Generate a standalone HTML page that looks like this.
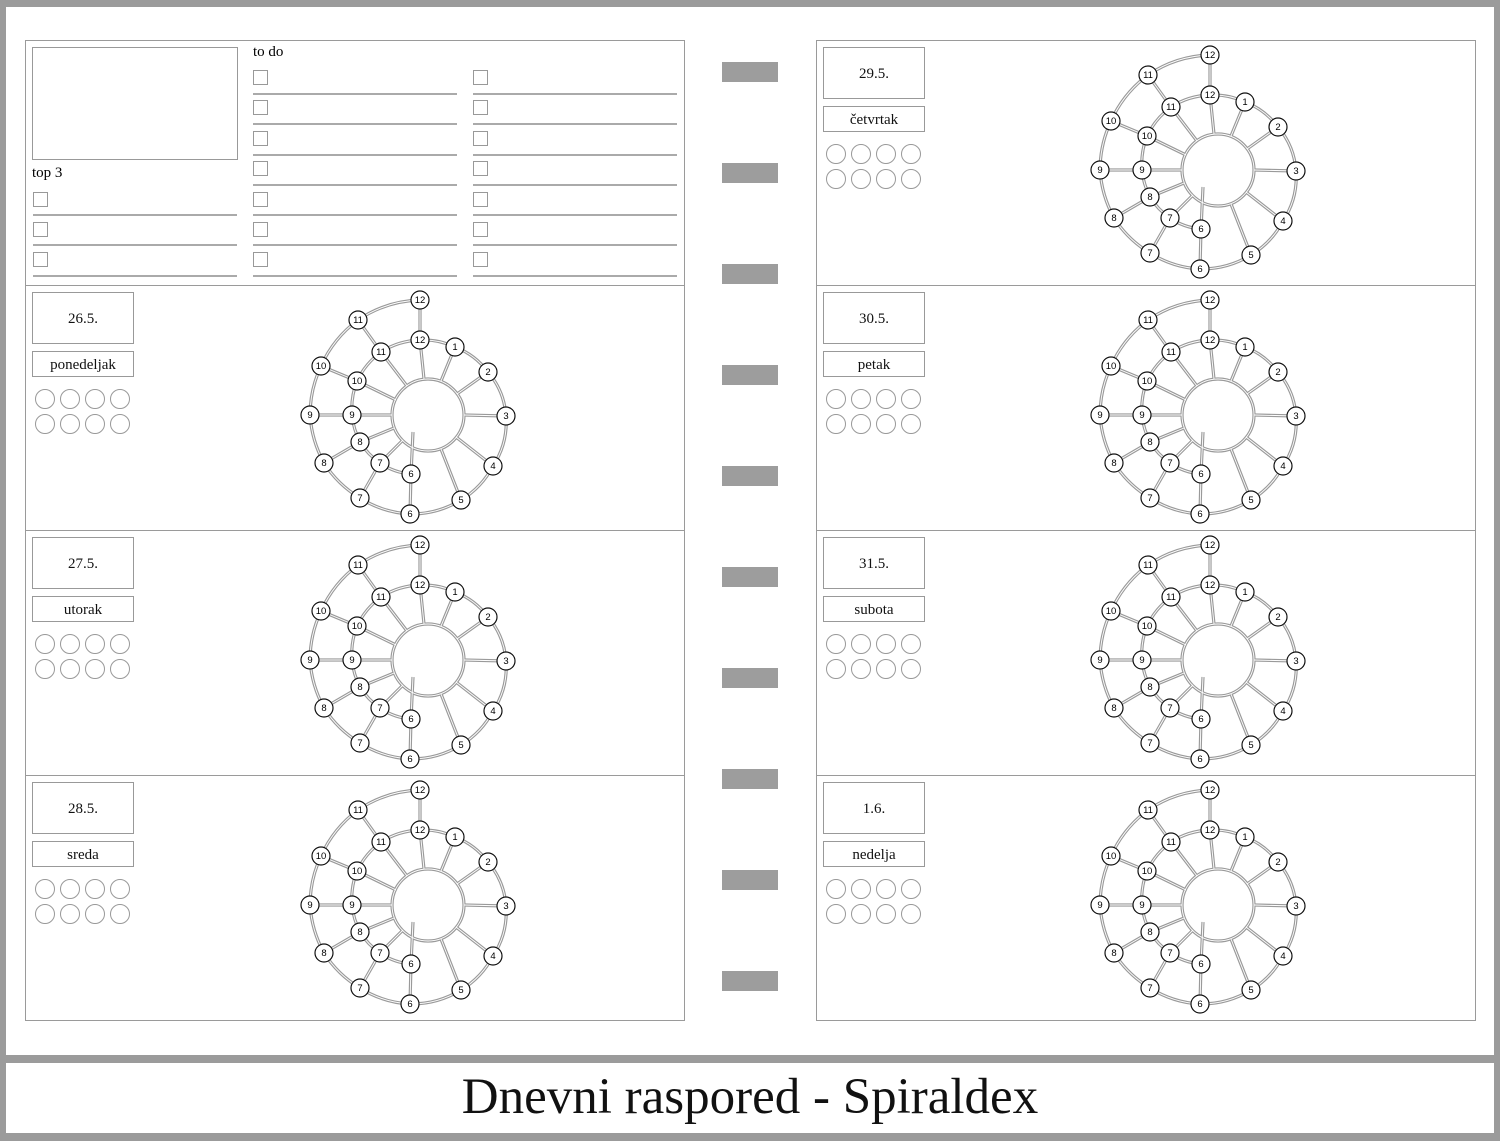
<!DOCTYPE html>
<html><head><meta charset="utf-8"><style>
body{margin:0;width:1500px;height:1141px;position:relative;background:#fff;overflow:hidden;font-family:"Liberation Serif",serif}
.a{position:absolute}
.frame{position:absolute;background:#9b9b9b}
.p{position:absolute;border:1px solid #9a9a9a;box-sizing:border-box}
.box{position:absolute;border:1.5px solid #999;box-sizing:border-box;text-align:center;font-size:15px;color:#111}
.cb{position:absolute;width:15px;height:15px;border:1.5px solid #999;box-sizing:border-box}
.ln{position:absolute;height:2px;background:#aaa}
.c{position:absolute;width:20px;height:20px;border:1.3px solid #999;border-radius:50%;box-sizing:border-box}
.bar{position:absolute;left:722px;width:56px;height:20px;background:#9d9d9d}
svg.s{position:absolute;width:260px;height:260px}
svg.s text{font-family:"Liberation Sans",sans-serif;font-size:9.5px;text-anchor:middle}
</style></head><body>
<div class="frame" style="left:0;top:0;width:1500px;height:7px"></div>
<div class="frame" style="left:0;top:0;width:6px;height:1141px"></div>
<div class="frame" style="right:0;top:0;width:6px;height:1141px"></div>
<div class="frame" style="left:0;top:1055px;width:1500px;height:8px"></div>
<div class="frame" style="left:0;top:1133px;width:1500px;height:8px"></div>
<div class="a" style="left:0;top:1066px;width:1500px;text-align:center;font-size:51px;color:#111;line-height:62px">Dnevni raspored - Spiraldex</div>

<svg width="0" height="0" style="position:absolute"><defs>
<g id="L" fill="none">
<circle cx="0" cy="0" r="36"/>
<path d="M -15 17 L -17 59 A 64 64 0 0 1 -48 48 A 70 70 0 0 1 -68 27 A 75 75 0 0 1 -76 0 A 77 77 0 0 1 -71 -34 A 78 78 0 0 1 -47 -63 A 77 77 0 0 1 -8 -75 A 74 74 0 0 1 27 -68 A 74 74 0 0 1 60 -43 A 76 76 0 0 1 78 1 A 80 80 0 0 1 65 51 A 87 87 0 0 1 33 85 A 96 96 0 0 1 -18 99 A 104 104 0 0 1 -68 83 A 110 110 0 0 1 -104 48 A 116 116 0 0 1 -118 0 A 118 118 0 0 1 -107 -49 A 118 118 0 0 1 -70 -95 A 117 117 0 0 1 -8 -115"/>
<path d="M -4 -36 L -8 -75 M 13 -34 L 27 -68 M 29 -21 L 60 -43 M 36 0 L 78 1 M 28 22 L 65 51 M 13 34 L 33 85 M -21 -29 L -47 -63 M -32 -15 L -71 -34 M -36 0 L -76 0 M -34 13 L -68 27 M -25 25 L -48 48 M -8 -75 L -8 -115 M -47 -63 L -70 -95 M -71 -34 L -107 -49 M -76 0 L -118 0 M -68 27 L -104 48 M -48 48 L -68 83 M -17 59 L -18 99"/>
</g>
<g id="N" fill="#fff" stroke="#111" stroke-width="1.2">
<circle cx="-8" cy="-115" r="9"/><circle cx="-70" cy="-95" r="9"/><circle cx="-107" cy="-49" r="9"/><circle cx="-118" cy="0" r="9"/><circle cx="-104" cy="48" r="9"/><circle cx="-68" cy="83" r="9"/><circle cx="-18" cy="99" r="9"/>
<circle cx="-8" cy="-75" r="9"/><circle cx="-47" cy="-63" r="9"/><circle cx="-71" cy="-34" r="9"/><circle cx="-76" cy="0" r="9"/><circle cx="-68" cy="27" r="9"/><circle cx="-48" cy="48" r="9"/><circle cx="-17" cy="59" r="9"/>
<circle cx="27" cy="-68" r="9"/><circle cx="60" cy="-43" r="9"/><circle cx="78" cy="1" r="9"/><circle cx="65" cy="51" r="9"/><circle cx="33" cy="85" r="9"/>
</g>
</defs></svg>

<!-- panels -->
<div class="p" style="left:25px;top:40px;width:660px;height:246px"></div>
<div class="p" style="left:25px;top:285px;width:660px;height:246px"></div>
<div class="p" style="left:25px;top:530px;width:660px;height:246px"></div>
<div class="p" style="left:25px;top:775px;width:660px;height:246px"></div>
<div class="p" style="left:816px;top:40px;width:660px;height:246px"></div>
<div class="p" style="left:816px;top:285px;width:660px;height:246px"></div>
<div class="p" style="left:816px;top:530px;width:660px;height:246px"></div>
<div class="p" style="left:816px;top:775px;width:660px;height:246px"></div>

<!-- bars -->
<div class="bar" style="top:62px"></div><div class="bar" style="top:163px"></div><div class="bar" style="top:264px"></div><div class="bar" style="top:365px"></div><div class="bar" style="top:466px"></div><div class="bar" style="top:567px"></div><div class="bar" style="top:668px"></div><div class="bar" style="top:769px"></div><div class="bar" style="top:870px"></div><div class="bar" style="top:971px"></div>

<!-- todo panel -->
<div class="box" style="left:32px;top:47px;width:206px;height:113px"></div>
<div class="a" style="left:32px;top:165px;font-size:15px">top 3</div>
<div class="a" style="left:253px;top:44px;font-size:15px">to do</div>
<div class="cb" style="left:33px;top:192px"></div><div class="ln" style="left:33px;top:214px;width:204px"></div>
<div class="cb" style="left:33px;top:222px"></div><div class="ln" style="left:33px;top:244px;width:204px"></div>
<div class="cb" style="left:33px;top:252px"></div><div class="ln" style="left:33px;top:275px;width:204px"></div>
<div class="cb" style="left:253px;top:70px"></div><div class="ln" style="left:253px;top:93px;width:204px"></div>
<div class="cb" style="left:253px;top:100px"></div><div class="ln" style="left:253px;top:123px;width:204px"></div>
<div class="cb" style="left:253px;top:131px"></div><div class="ln" style="left:253px;top:154px;width:204px"></div>
<div class="cb" style="left:253px;top:161px"></div><div class="ln" style="left:253px;top:184px;width:204px"></div>
<div class="cb" style="left:253px;top:192px"></div><div class="ln" style="left:253px;top:214px;width:204px"></div>
<div class="cb" style="left:253px;top:222px"></div><div class="ln" style="left:253px;top:244px;width:204px"></div>
<div class="cb" style="left:253px;top:252px"></div><div class="ln" style="left:253px;top:275px;width:204px"></div>
<div class="cb" style="left:473px;top:70px"></div><div class="ln" style="left:473px;top:93px;width:204px"></div>
<div class="cb" style="left:473px;top:100px"></div><div class="ln" style="left:473px;top:123px;width:204px"></div>
<div class="cb" style="left:473px;top:131px"></div><div class="ln" style="left:473px;top:154px;width:204px"></div>
<div class="cb" style="left:473px;top:161px"></div><div class="ln" style="left:473px;top:184px;width:204px"></div>
<div class="cb" style="left:473px;top:192px"></div><div class="ln" style="left:473px;top:214px;width:204px"></div>
<div class="cb" style="left:473px;top:222px"></div><div class="ln" style="left:473px;top:244px;width:204px"></div>
<div class="cb" style="left:473px;top:252px"></div><div class="ln" style="left:473px;top:275px;width:204px"></div>

<!-- day labels -->
<div class="box" style="left:32px;top:292px;width:102px;height:52px;line-height:52px">26.5.</div>
<div class="box" style="left:32px;top:351px;width:102px;height:26px;line-height:26px">ponedeljak</div>
<div class="box" style="left:32px;top:537px;width:102px;height:52px;line-height:52px">27.5.</div>
<div class="box" style="left:32px;top:596px;width:102px;height:26px;line-height:26px">utorak</div>
<div class="box" style="left:32px;top:782px;width:102px;height:52px;line-height:52px">28.5.</div>
<div class="box" style="left:32px;top:841px;width:102px;height:26px;line-height:26px">sreda</div>
<div class="box" style="left:823px;top:47px;width:102px;height:52px;line-height:52px">29.5.</div>
<div class="box" style="left:823px;top:106px;width:102px;height:26px;line-height:26px">četvrtak</div>
<div class="box" style="left:823px;top:292px;width:102px;height:52px;line-height:52px">30.5.</div>
<div class="box" style="left:823px;top:351px;width:102px;height:26px;line-height:26px">petak</div>
<div class="box" style="left:823px;top:537px;width:102px;height:52px;line-height:52px">31.5.</div>
<div class="box" style="left:823px;top:596px;width:102px;height:26px;line-height:26px">subota</div>
<div class="box" style="left:823px;top:782px;width:102px;height:52px;line-height:52px">1.6.</div>
<div class="box" style="left:823px;top:841px;width:102px;height:26px;line-height:26px">nedelja</div>

<!-- circles -->
<div class="c" style="left:35px;top:389px"></div><div class="c" style="left:60px;top:389px"></div><div class="c" style="left:85px;top:389px"></div><div class="c" style="left:110px;top:389px"></div>
<div class="c" style="left:35px;top:414px"></div><div class="c" style="left:60px;top:414px"></div><div class="c" style="left:85px;top:414px"></div><div class="c" style="left:110px;top:414px"></div>
<div class="c" style="left:35px;top:634px"></div><div class="c" style="left:60px;top:634px"></div><div class="c" style="left:85px;top:634px"></div><div class="c" style="left:110px;top:634px"></div>
<div class="c" style="left:35px;top:659px"></div><div class="c" style="left:60px;top:659px"></div><div class="c" style="left:85px;top:659px"></div><div class="c" style="left:110px;top:659px"></div>
<div class="c" style="left:35px;top:879px"></div><div class="c" style="left:60px;top:879px"></div><div class="c" style="left:85px;top:879px"></div><div class="c" style="left:110px;top:879px"></div>
<div class="c" style="left:35px;top:904px"></div><div class="c" style="left:60px;top:904px"></div><div class="c" style="left:85px;top:904px"></div><div class="c" style="left:110px;top:904px"></div>
<div class="c" style="left:826px;top:144px"></div><div class="c" style="left:851px;top:144px"></div><div class="c" style="left:876px;top:144px"></div><div class="c" style="left:901px;top:144px"></div>
<div class="c" style="left:826px;top:169px"></div><div class="c" style="left:851px;top:169px"></div><div class="c" style="left:876px;top:169px"></div><div class="c" style="left:901px;top:169px"></div>
<div class="c" style="left:826px;top:389px"></div><div class="c" style="left:851px;top:389px"></div><div class="c" style="left:876px;top:389px"></div><div class="c" style="left:901px;top:389px"></div>
<div class="c" style="left:826px;top:414px"></div><div class="c" style="left:851px;top:414px"></div><div class="c" style="left:876px;top:414px"></div><div class="c" style="left:901px;top:414px"></div>
<div class="c" style="left:826px;top:634px"></div><div class="c" style="left:851px;top:634px"></div><div class="c" style="left:876px;top:634px"></div><div class="c" style="left:901px;top:634px"></div>
<div class="c" style="left:826px;top:659px"></div><div class="c" style="left:851px;top:659px"></div><div class="c" style="left:876px;top:659px"></div><div class="c" style="left:901px;top:659px"></div>
<div class="c" style="left:826px;top:879px"></div><div class="c" style="left:851px;top:879px"></div><div class="c" style="left:876px;top:879px"></div><div class="c" style="left:901px;top:879px"></div>
<div class="c" style="left:826px;top:904px"></div><div class="c" style="left:851px;top:904px"></div><div class="c" style="left:876px;top:904px"></div><div class="c" style="left:901px;top:904px"></div>

<!-- spirals -->
<svg class="s" style="left:298px;top:285px" viewBox="-130 -130 260 260"><use href="#L" stroke="#9a9a9a" stroke-width="3.2"/><use href="#L" stroke="#fff" stroke-width="0.9"/><use href="#N"/><g><text x="-8" y="-112">12</text><text x="-70" y="-92">11</text><text x="-107" y="-46">10</text><text x="-118" y="3">9</text><text x="-104" y="51">8</text><text x="-68" y="86">7</text><text x="-18" y="102">6</text><text x="-8" y="-72">12</text><text x="-47" y="-60">11</text><text x="-71" y="-31">10</text><text x="-76" y="3">9</text><text x="-68" y="30">8</text><text x="-48" y="51">7</text><text x="-17" y="62">6</text><text x="27" y="-65">1</text><text x="60" y="-40">2</text><text x="78" y="4">3</text><text x="65" y="54">4</text><text x="33" y="88">5</text></g></svg>
<svg class="s" style="left:298px;top:530px" viewBox="-130 -130 260 260"><use href="#L" stroke="#9a9a9a" stroke-width="3.2"/><use href="#L" stroke="#fff" stroke-width="0.9"/><use href="#N"/><g><text x="-8" y="-112">12</text><text x="-70" y="-92">11</text><text x="-107" y="-46">10</text><text x="-118" y="3">9</text><text x="-104" y="51">8</text><text x="-68" y="86">7</text><text x="-18" y="102">6</text><text x="-8" y="-72">12</text><text x="-47" y="-60">11</text><text x="-71" y="-31">10</text><text x="-76" y="3">9</text><text x="-68" y="30">8</text><text x="-48" y="51">7</text><text x="-17" y="62">6</text><text x="27" y="-65">1</text><text x="60" y="-40">2</text><text x="78" y="4">3</text><text x="65" y="54">4</text><text x="33" y="88">5</text></g></svg>
<svg class="s" style="left:298px;top:775px" viewBox="-130 -130 260 260"><use href="#L" stroke="#9a9a9a" stroke-width="3.2"/><use href="#L" stroke="#fff" stroke-width="0.9"/><use href="#N"/><g><text x="-8" y="-112">12</text><text x="-70" y="-92">11</text><text x="-107" y="-46">10</text><text x="-118" y="3">9</text><text x="-104" y="51">8</text><text x="-68" y="86">7</text><text x="-18" y="102">6</text><text x="-8" y="-72">12</text><text x="-47" y="-60">11</text><text x="-71" y="-31">10</text><text x="-76" y="3">9</text><text x="-68" y="30">8</text><text x="-48" y="51">7</text><text x="-17" y="62">6</text><text x="27" y="-65">1</text><text x="60" y="-40">2</text><text x="78" y="4">3</text><text x="65" y="54">4</text><text x="33" y="88">5</text></g></svg>
<svg class="s" style="left:1088px;top:40px" viewBox="-130 -130 260 260"><use href="#L" stroke="#9a9a9a" stroke-width="3.2"/><use href="#L" stroke="#fff" stroke-width="0.9"/><use href="#N"/><g><text x="-8" y="-112">12</text><text x="-70" y="-92">11</text><text x="-107" y="-46">10</text><text x="-118" y="3">9</text><text x="-104" y="51">8</text><text x="-68" y="86">7</text><text x="-18" y="102">6</text><text x="-8" y="-72">12</text><text x="-47" y="-60">11</text><text x="-71" y="-31">10</text><text x="-76" y="3">9</text><text x="-68" y="30">8</text><text x="-48" y="51">7</text><text x="-17" y="62">6</text><text x="27" y="-65">1</text><text x="60" y="-40">2</text><text x="78" y="4">3</text><text x="65" y="54">4</text><text x="33" y="88">5</text></g></svg>
<svg class="s" style="left:1088px;top:285px" viewBox="-130 -130 260 260"><use href="#L" stroke="#9a9a9a" stroke-width="3.2"/><use href="#L" stroke="#fff" stroke-width="0.9"/><use href="#N"/><g><text x="-8" y="-112">12</text><text x="-70" y="-92">11</text><text x="-107" y="-46">10</text><text x="-118" y="3">9</text><text x="-104" y="51">8</text><text x="-68" y="86">7</text><text x="-18" y="102">6</text><text x="-8" y="-72">12</text><text x="-47" y="-60">11</text><text x="-71" y="-31">10</text><text x="-76" y="3">9</text><text x="-68" y="30">8</text><text x="-48" y="51">7</text><text x="-17" y="62">6</text><text x="27" y="-65">1</text><text x="60" y="-40">2</text><text x="78" y="4">3</text><text x="65" y="54">4</text><text x="33" y="88">5</text></g></svg>
<svg class="s" style="left:1088px;top:530px" viewBox="-130 -130 260 260"><use href="#L" stroke="#9a9a9a" stroke-width="3.2"/><use href="#L" stroke="#fff" stroke-width="0.9"/><use href="#N"/><g><text x="-8" y="-112">12</text><text x="-70" y="-92">11</text><text x="-107" y="-46">10</text><text x="-118" y="3">9</text><text x="-104" y="51">8</text><text x="-68" y="86">7</text><text x="-18" y="102">6</text><text x="-8" y="-72">12</text><text x="-47" y="-60">11</text><text x="-71" y="-31">10</text><text x="-76" y="3">9</text><text x="-68" y="30">8</text><text x="-48" y="51">7</text><text x="-17" y="62">6</text><text x="27" y="-65">1</text><text x="60" y="-40">2</text><text x="78" y="4">3</text><text x="65" y="54">4</text><text x="33" y="88">5</text></g></svg>
<svg class="s" style="left:1088px;top:775px" viewBox="-130 -130 260 260"><use href="#L" stroke="#9a9a9a" stroke-width="3.2"/><use href="#L" stroke="#fff" stroke-width="0.9"/><use href="#N"/><g><text x="-8" y="-112">12</text><text x="-70" y="-92">11</text><text x="-107" y="-46">10</text><text x="-118" y="3">9</text><text x="-104" y="51">8</text><text x="-68" y="86">7</text><text x="-18" y="102">6</text><text x="-8" y="-72">12</text><text x="-47" y="-60">11</text><text x="-71" y="-31">10</text><text x="-76" y="3">9</text><text x="-68" y="30">8</text><text x="-48" y="51">7</text><text x="-17" y="62">6</text><text x="27" y="-65">1</text><text x="60" y="-40">2</text><text x="78" y="4">3</text><text x="65" y="54">4</text><text x="33" y="88">5</text></g></svg>
</body></html>
